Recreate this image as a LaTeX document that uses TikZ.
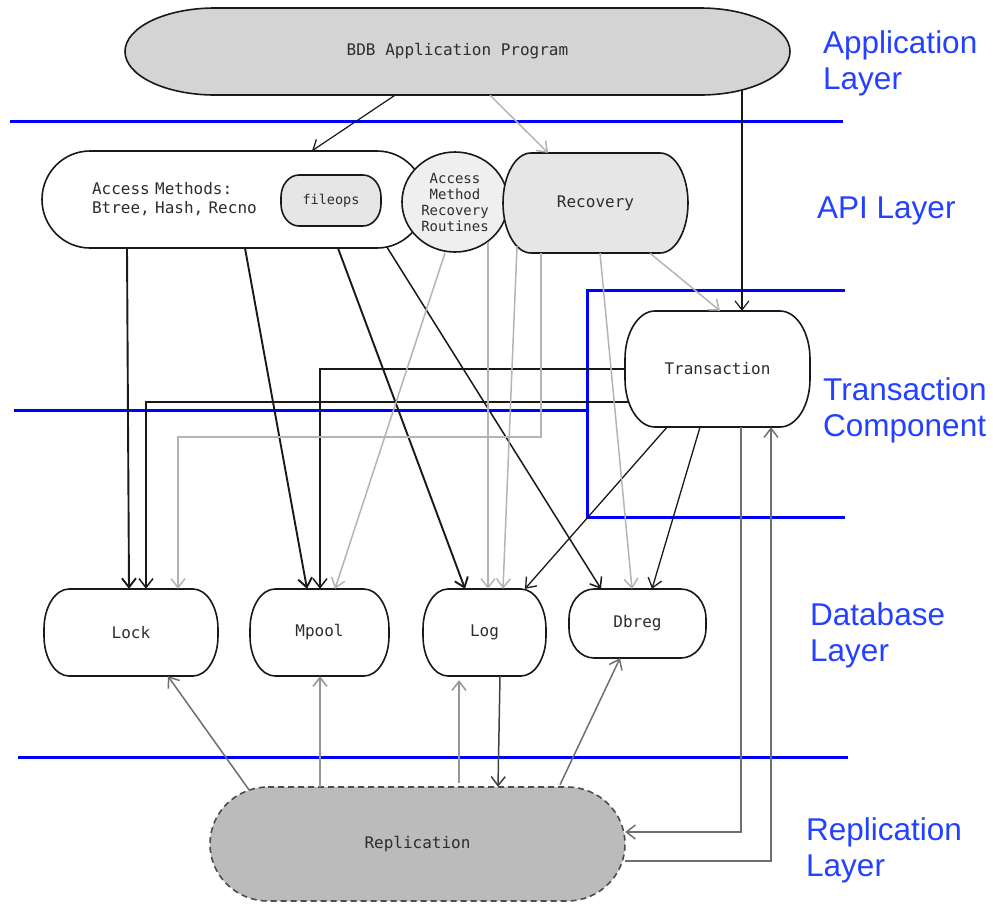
\documentclass[tikz,border=0pt]{standalone}
\usepackage{fontspec}
\setmainfont{Liberation Sans}
\setmonofont{DejaVu Sans Mono}
\usetikzlibrary{arrows.meta,shapes.geometric}
\definecolor{labelblue}{RGB}{35,65,255}
\definecolor{txt}{RGB}{45,45,45}
\definecolor{darkline}{RGB}{25,25,25}
\definecolor{lightline}{RGB}{180,180,180}
\definecolor{midline}{RGB}{110,110,110}
\definecolor{paleline}{RGB}{150,150,150}
\definecolor{bdbfill}{RGB}{212,212,212}
\definecolor{recfill}{RGB}{230,230,230}
\definecolor{amrrfill}{RGB}{239,239,239}
\definecolor{repfill}{RGB}{187,187,187}
% #1 style, #2 x1, #3 y1, #4 x2, #5 y2, #6 rx, #7 ry  (pixel coords, y down)
\newcommand\rshape[7][]{%
  \draw[#1] ({#2+#6},{-#3}) -- ({#4-#6},{-#3})
    arc[start angle=90,end angle=0,x radius=#6,y radius=#7]
    -- ({#4},{-#5+#7})
    arc[start angle=0,end angle=-90,x radius=#6,y radius=#7]
    -- ({#2+#6},{-#5})
    arc[start angle=270,end angle=180,x radius=#6,y radius=#7]
    -- ({#2},{-#3-#7})
    arc[start angle=180,end angle=90,x radius=#6,y radius=#7] -- cycle;}
\begin{document}
\begin{tikzpicture}[x=1pt,y=1pt,
  outline/.style={draw=darkline,line width=1.6pt},
  box/.style={rectangle,inner sep=0pt,draw=none,text=txt,
    font=\ttfamily\fontsize{16}{19}\selectfont},
  layerline/.style={draw=blue,line width=3pt},
  blab/.style={anchor=north west,inner sep=0pt,align=left,text=labelblue,
    font=\fontsize{31.5}{36}\selectfont},
  arr/.style={-{Straight Barb[length=9pt,width=14pt]}},
  dk/.style={arr,draw=darkline,line width=1.5pt},
  dkthick/.style={arr,draw=darkline,line width=1.9pt},
  lt/.style={arr,draw=lightline,line width=1.5pt},
  md/.style={arr,draw=midline,line width=1.5pt},
  pl/.style={arr,draw=paleline,line width=1.5pt}]
\useasboundingbox (0,0) rectangle (993,-903);

% layer separators
\draw[layerline] (10,-121) -- (843,-121);
\draw[layerline] (845,-290) -- (587,-290) -- (587,-517) -- (845,-517);
\draw[layerline] (14,-410) -- (587,-410);
\draw[layerline] (18,-757) -- (848,-757);

% shapes
\rshape[outline,fill=bdbfill]{125}{8}{790}{95}{90}{43.5}
\rshape[outline,fill=white]{42}{151}{425}{248}{48}{48.5}
\rshape[outline,fill=recfill]{281}{175}{381}{226}{18}{22}
\node[ellipse,outline,fill=amrrfill,minimum width=106pt,minimum height=100pt,
  inner sep=0pt,text=txt,align=center,
  font=\ttfamily\fontsize{14}{16}\selectfont] (amrr) at (455,-202)
  {Access\\Method\\Recovery\\Routines};
\rshape[outline,fill=recfill]{503}{153}{688}{253}{28}{50}
\rshape[outline,fill=white]{625}{311}{810}{427}{30}{48}
\rshape[outline,fill=white]{44}{589}{218}{676}{25}{40}
\rshape[outline,fill=white]{250}{589}{389}{676}{25}{40}
\rshape[outline,fill=white]{423}{589}{546}{676}{25}{40}
\rshape[outline,fill=white]{569}{589}{706}{658}{25}{30}
\rshape[draw=black!70,line width=1.6pt,dashed,dash pattern=on 6pt off 4pt,fill=repfill]{210}{787}{625}{901}{58}{57}

% nodes (text and names)
\node[box,minimum width=665pt,minimum height=87pt] (bdb) at (457.5,-51.5) {BDB Application Program};
\node[box,minimum width=383pt,minimum height=97pt,text width=283pt,align=left] (am) at (233.5,-199.5) {Access Methods:\\Btree, Hash, Recno};
\node[box,minimum width=100pt,minimum height=51pt,font=\ttfamily\fontsize{13.5}{16}\selectfont] (fops) at (331,-200.5) {fileops};
\node[box,minimum width=185pt,minimum height=100pt] (rec) at (595.5,-203) {Recovery};
\node[box,minimum width=185pt,minimum height=116pt] (tx) at (717.5,-369) {Transaction};
\node[box,minimum width=174pt,minimum height=87pt] (lock) at (131,-632.5) {Lock};
\node[box,minimum width=139pt,minimum height=87pt] (mpool) at (319.5,-632.5) {Mpool};
\node[box,minimum width=123pt,minimum height=87pt] (log) at (484.5,-632.5) {Log};
\node[box,minimum width=137pt,minimum height=69pt] (dbreg) at (637.5,-623.5) {Dbreg};
\node[box,minimum width=415pt,minimum height=114pt] (rep) at (417.5,-844) {Replication};

% layer labels
\node[blab] (lapp) at (823,-30) {Application\\Layer};
\node[blab] (lapi) at (817,-197) {API Layer};
\node[blab] (ltx) at (823,-377) {Transaction\\Component};
\node[blab] (ldb) at (810,-602) {Database\\Layer};
\node[blab] (lrep) at (806,-817) {Replication\\Layer};

% connectors from the application
\draw[dk,line width=1.2pt] ([xshift=-62.5pt]bdb.south) -- ([xshift=78.5pt]am.north);
\draw[lt] ([xshift=32.5pt]bdb.south) -- ([xshift=-47.5pt]rec.north);
\draw[dk,line width=1.2pt] ([xshift=284.5pt,yshift=5pt]bdb.south) -- ([xshift=24.5pt]tx.north);
\draw[lt] ([xshift=54.5pt]rec.south) -- ([xshift=2.5pt]tx.north);

% access methods to database layer
\draw[dkthick] ([xshift=-106.5pt]am.south) -- ([xshift=-2pt]lock.north);
\draw[dkthick] ([xshift=11.5pt]am.south) -- ([xshift=-12.5pt]mpool.north);
\draw[dkthick] ([xshift=104.5pt]am.south) -- ([xshift=-19.5pt]log.north);
\draw[dk] ([xshift=153.5pt,yshift=1pt]am.south) -- ([xshift=-36.5pt]dbreg.north);

% transaction to database layer
\draw[dk] ([xshift=4pt,yshift=-33pt]tx.west) -| ([xshift=15pt]lock.north);
\draw[dk] (tx.west) -| ([xshift=0.5pt]mpool.north);
\draw[dk,line width=1.3pt] ([xshift=-50.5pt]tx.south) -- ([xshift=40.5pt]log.north);
\draw[dk,line width=1.3pt] ([xshift=-17.5pt]tx.south) -- ([xshift=14.5pt]dbreg.north);

% recovery to database layer
\draw[lt] ([xshift=-54.5pt]rec.south) -- ++(0,-184) -| ([xshift=47pt]lock.north);
\draw[lt] ([xshift=-10pt]amrr.south) -- ([xshift=15.5pt]mpool.north);
\draw[lt] ([xshift=33pt,yshift=11pt]amrr.south) -- ([xshift=3.5pt]log.north);
\draw[lt] ([xshift=-78.5pt,yshift=7pt]rec.south) -- ([xshift=18.5pt]log.north);
\draw[lt] ([xshift=4.5pt]rec.south) -- ([xshift=-5.5pt]dbreg.north);

% replication
\draw[md] ([xshift=23.5pt]tx.south) |- ([yshift=12pt]rep.east);
\draw[md] ([yshift=-17pt]rep.east) -| ([xshift=53.5pt]tx.south);
\draw[md] ([xshift=-168.5pt,yshift=-3pt]rep.north) -- ([xshift=37pt]lock.south);
\draw[pl] ([xshift=-97.5pt]rep.north) -- ([xshift=0.5pt]mpool.south);
\draw[pl] ([xshift=41.5pt,yshift=4pt]rep.north) -- ([xshift=-25.5pt,yshift=-4pt]log.south);
\draw[md,draw=black!75] ([xshift=15.5pt]log.south) -- ([xshift=80.5pt]rep.north);
\draw[md] ([xshift=142.5pt,yshift=2pt]rep.north) -- ([xshift=-17.5pt]dbreg.south);
\end{tikzpicture}
\end{document}
